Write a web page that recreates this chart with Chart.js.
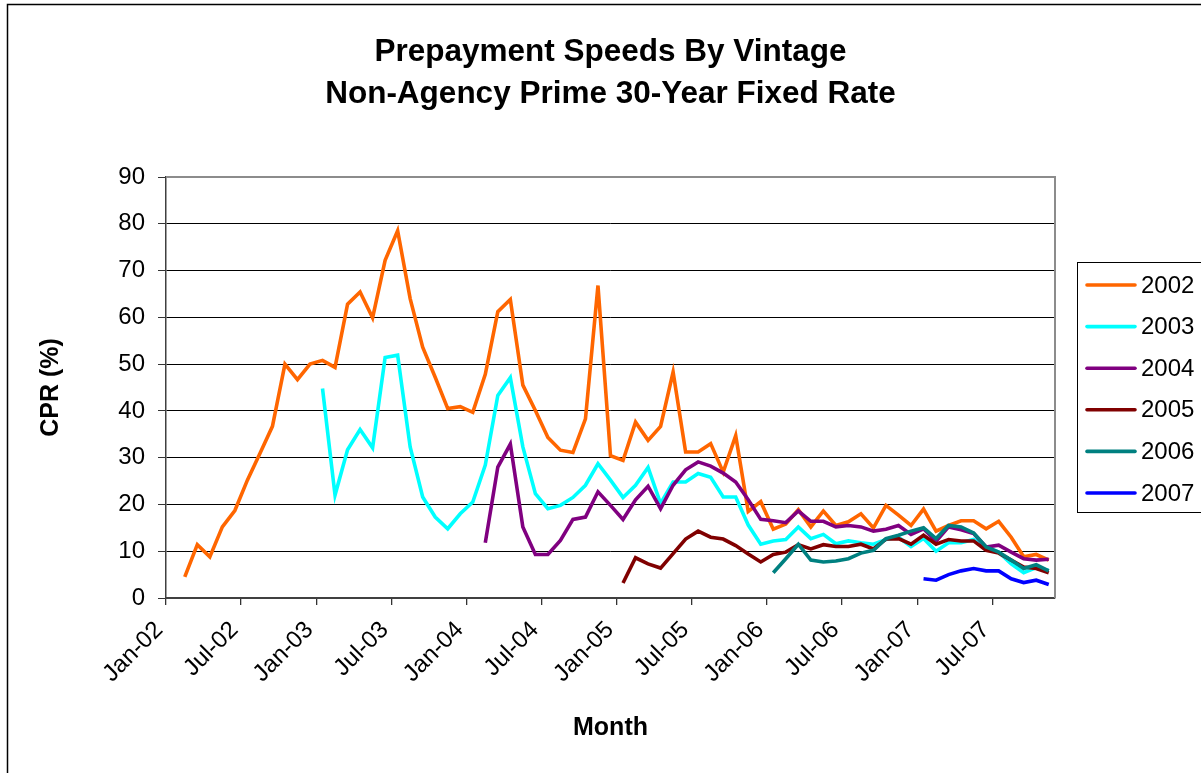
<!DOCTYPE html>
<html>
<head>
<meta charset="utf-8">
<script src="https://cdn.jsdelivr.net/npm/chart.js@4.4.1/dist/chart.umd.min.js"></script>
<style>
  html, body { margin: 0; padding: 0; background: #fff; }
  #wrap { width: 1201px; height: 773px; position: relative; }
  canvas { display: block; }
</style>
</head>
<body>
<div id="wrap"><canvas id="c" width="1201" height="773"></canvas></div>
<script>
// ---- categories (monthly) ----
const months = [
  'Jan-02','Feb-02','Mar-02','Apr-02','May-02','Jun-02','Jul-02','Aug-02','Sep-02','Oct-02','Nov-02','Dec-02',
  'Jan-03','Feb-03','Mar-03','Apr-03','May-03','Jun-03','Jul-03','Aug-03','Sep-03','Oct-03','Nov-03','Dec-03',
  'Jan-04','Feb-04','Mar-04','Apr-04','May-04','Jun-04','Jul-04','Aug-04','Sep-04','Oct-04','Nov-04','Dec-04',
  'Jan-05','Feb-05','Mar-05','Apr-05','May-05','Jun-05','Jul-05','Aug-05','Sep-05','Oct-05','Nov-05','Dec-05',
  'Jan-06','Feb-06','Mar-06','Apr-06','May-06','Jun-06','Jul-06','Aug-06','Sep-06','Oct-06','Nov-06','Dec-06',
  'Jan-07','Feb-07','Mar-07','Apr-07','May-07','Jun-07','Jul-07','Aug-07','Sep-07','Oct-07','Nov-07'
];
const tickLabels = ['Jan-02','Jul-02','Jan-03','Jul-03','Jan-04','Jul-04','Jan-05','Jul-05','Jan-06','Jul-06','Jan-07','Jul-07'];
const yTicks = [0,10,20,30,40,50,60,70,80,90];

// ---- series (CPR %), each starting at its first month ----
const start2002 = 'Feb-02';
const cpr2002 = [
  4.5, 11.4, 8.8, 15.2, 18.7, 25.2, 30.9, 36.7, 50.0, 46.7, 50.0,
  50.8, 49.3, 62.8, 65.4, 59.9, 72.2, 78.5, 64.0, 53.6, 47.2, 40.5, 40.9,
  39.7, 47.8, 61.2, 63.8, 45.5, 40.1, 34.3, 31.6, 31.1, 38.3, 66.8, 30.4,
  29.4, 37.6, 33.7, 36.7, 48.3, 31.2, 31.2, 33.0, 26.9, 34.7, 18.5, 20.6,
  14.7, 15.8, 18.9, 15.2, 18.6, 15.5, 16.3, 18.0, 15.0, 19.8, 17.7, 15.5,
  19.0, 14.3, 15.5, 16.5, 16.5, 14.8, 16.4, 13.0, 8.8, 9.3, 8.1
];
const start2003 = 'Jan-03';
const cpr2003 = [
  44.8, 22.0, 31.7, 36.0, 32.1, 51.4, 51.9, 32.3, 21.6, 17.3, 14.8, 18.0,
  20.5, 28.4, 43.3, 47.1, 32.3, 22.3, 19.1, 19.8, 21.5, 24.1, 28.7, 25.2,
  21.5, 24.1, 27.9, 20.2, 24.8, 24.8, 26.6, 25.8, 21.6, 21.6, 15.6, 11.5,
  12.2, 12.5, 15.2, 12.7, 13.6, 11.6, 12.2, 11.8, 11.5, 12.5, 13.0, 11.0,
  12.7, 10.0, 11.8, 11.8, 12.5, 10.9, 9.8, 7.3, 5.4, 6.5, 5.9
];
const start2004 = 'Feb-04';
const cpr2004 = [
  11.8, 28.0, 32.9, 15.2, 9.3, 9.3, 12.3, 16.8, 17.3, 22.7, 19.8,
  16.8, 21.0, 23.9, 19.1, 24.1, 27.4, 29.1, 28.2, 26.7, 24.8, 21.0, 16.8,
  16.5, 16.1, 18.6, 16.4, 16.4, 15.2, 15.5, 15.2, 14.3, 14.7, 15.5, 13.6,
  14.8, 12.1, 15.2, 14.6, 13.8, 10.9, 11.3, 9.8, 8.4, 8.1, 8.3
];
const start2005 = 'Jan-05';
const cpr2005 = [
  3.2, 8.6, 7.3, 6.4, 9.5, 12.6, 14.3, 13.0, 12.6, 11.2, 9.4, 7.7,
  9.3, 9.8, 11.4, 10.5, 11.4, 11.0, 11.0, 11.5, 10.5, 12.6, 12.7, 11.5,
  13.4, 11.5, 12.5, 12.2, 12.2, 10.2, 9.6, 8.1, 6.6, 6.3, 5.4
];
const start2006 = 'Jan-06';
const cpr2006 = [
  5.4, 8.4, 11.5, 8.1, 7.7, 7.9, 8.4, 9.6, 10.2, 12.7, 13.4, 14.3,
  15.0, 12.7, 15.5, 15.2, 13.9, 10.9, 9.8, 8.1, 6.3, 7.1, 5.8
];
const start2007 = 'Jan-07';
const cpr2007 = [4.1, 3.8, 5.0, 5.8, 6.3, 5.8, 5.8, 4.1, 3.3, 3.8, 2.9];

const vintages = ['2002','2003','2004','2005','2006','2007'];
const colors = ['#FF6600','#00FFFF','#800080','#800000','#008080','#0000FF'];

function align(startLabel, values) {
  const idx = months.indexOf(startLabel);
  return months.map((m, i) => (i >= idx && i - idx < values.length) ? values[i - idx] : null);
}
const seriesList = [
  align(start2002, cpr2002), align(start2003, cpr2003), align(start2004, cpr2004),
  align(start2005, cpr2005), align(start2006, cpr2006), align(start2007, cpr2007)
];

const FONT = "'Liberation Sans', Arial, sans-serif";

const datasets = vintages.map((v, k) => ({
  label: v,
  data: seriesList[k],
  borderColor: colors[k],
  backgroundColor: colors[k],
  borderWidth: 3.6,
  pointRadius: 0,
  pointHoverRadius: 0,
  fill: false,
  tension: 0,
  spanGaps: false,
  order: vintages.length - k
}));

const decorPlugin = {
  id: 'decor',
  afterDraw(chart) {
    const ctx = chart.ctx;
    const a = chart.chartArea;
    ctx.save();
    // outer frame (left + top visible)
    ctx.strokeStyle = '#000';
    ctx.lineWidth = 1.5;
    ctx.beginPath();
    ctx.moveTo(7.5, 773);
    ctx.lineTo(7.5, 4.5);
    ctx.lineTo(1201, 4.5);
    ctx.stroke();
    // plot area border: top & right in grey
    ctx.strokeStyle = '#8c8c8c';
    ctx.lineWidth = 2;
    ctx.beginPath();
    ctx.moveTo(a.left, a.top);
    ctx.lineTo(a.right, a.top);
    ctx.lineTo(a.right, a.bottom);
    ctx.stroke();
    // title
    ctx.fillStyle = '#000';
    ctx.font = "bold 31.5px " + FONT;
    ctx.textAlign = 'center';
    ctx.textBaseline = 'alphabetic';
    const cx = (a.left + a.right) / 2;
    ctx.fillText('Prepayment Speeds By Vintage', cx, 61);
    ctx.fillText('Non-Agency Prime 30-Year Fixed Rate', cx, 103);
    // legend
    const lx = 1077, ly = 262, lw = 140, lh = 250;
    ctx.strokeStyle = '#000';
    ctx.lineWidth = 1;
    ctx.strokeRect(lx + 0.5, ly + 0.5, lw, lh);
    ctx.font = "24px " + FONT;
    ctx.textAlign = 'left';
    ctx.textBaseline = 'middle';
    chart.data.datasets.forEach((ds, k) => {
      const y = 285 + k * 41.6;
      ctx.strokeStyle = ds.borderColor;
      ctx.lineWidth = 3.6;
      ctx.lineCap = 'round';
      ctx.beginPath();
      ctx.moveTo(1087, y);
      ctx.lineTo(1135, y);
      ctx.stroke();
      ctx.fillStyle = '#000';
      ctx.fillText(ds.label, 1141, y + 1);
    });
    ctx.restore();
  }
};

new Chart(document.getElementById('c'), {
  type: 'line',
  data: { labels: months, datasets },
  options: {
    responsive: false,
    animation: false,
    events: [],
    layout: { padding: { top: 177, right: 146, left: 0, bottom: 0 } },
    scales: {
      x: {
        type: 'category',
        offset: true,
        grid: {
          offset: true,
          drawOnChartArea: false,
          drawTicks: true,
          tickLength: 7,
          lineWidth: 1.3,
          tickColor: (c) => tickLabels.includes(months[c.index]) ? '#333' : 'rgba(0,0,0,0)'
        },
        border: { color: '#404040', width: 2 },
        ticks: {
          autoSkip: false,
          minRotation: 45,
          maxRotation: 45,
          labelOffset: -13,
          padding: 11,
          color: '#000',
          font: { family: FONT, size: 24 },
          callback: (value, index) => tickLabels.includes(months[index]) ? months[index] : ''
        },
        title: {
          display: true,
          text: 'Month',
          color: '#000',
          font: { family: FONT, size: 25, weight: 'bold' },
          padding: { top: 0, bottom: 30 }
        },
        afterFit: (s) => { s.height = 175; }
      },
      y: {
        min: 0,
        max: 90,
        afterBuildTicks: (s) => { s.ticks = yTicks.map(v => ({ value: v })); },
        grid: { color: '#000', lineWidth: 1, tickLength: 8, tickColor: '#333' },
        border: { color: '#404040', width: 1.5 },
        ticks: {
          padding: 13,
          color: '#000',
          font: { family: FONT, size: 24 }
        },
        title: {
          display: true,
          text: 'CPR (%)',
          color: '#000',
          font: { family: FONT, size: 25, weight: 'bold' },
          padding: { top: 36, bottom: 0 }
        },
        afterFit: (s) => { s.width = 166; }
      }
    },
    plugins: {
      legend: { display: false },
      title: { display: false },
      tooltip: { enabled: false }
    }
  },
  plugins: [decorPlugin]
});
</script>
</body>
</html>
